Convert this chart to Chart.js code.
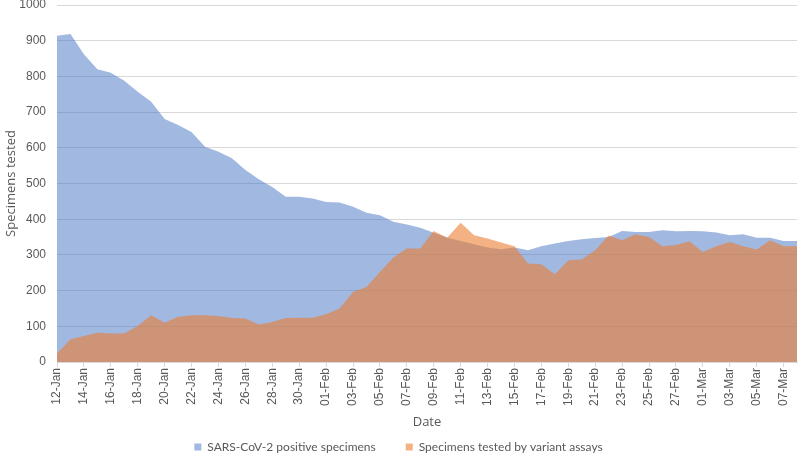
<!DOCTYPE html>
<html>
<head>
<meta charset="utf-8">
<script src="https://cdn.jsdelivr.net/npm/chart.js@4.4.1/dist/chart.umd.min.js"></script>
<style>
  html, body { margin: 0; padding: 0; background: #fff; }
  #wrap { width: 800px; height: 469px; position: relative; }
</style>
</head>
<body>
<div id="wrap"><canvas id="myChart"></canvas></div>
<script>
// Dates (daily, 12-Jan to 08-Mar)
const dates = [
  '12-Jan', '13-Jan', '14-Jan', '15-Jan', '16-Jan', '17-Jan', '18-Jan', '19-Jan', '20-Jan', '21-Jan',
  '22-Jan', '23-Jan', '24-Jan', '25-Jan', '26-Jan', '27-Jan', '28-Jan', '29-Jan', '30-Jan', '31-Jan',
  '01-Feb', '02-Feb', '03-Feb', '04-Feb', '05-Feb', '06-Feb', '07-Feb', '08-Feb', '09-Feb', '10-Feb',
  '11-Feb', '12-Feb', '13-Feb', '14-Feb', '15-Feb', '16-Feb', '17-Feb', '18-Feb', '19-Feb', '20-Feb',
  '21-Feb', '22-Feb', '23-Feb', '24-Feb', '25-Feb', '26-Feb', '27-Feb', '28-Feb', '01-Mar', '02-Mar',
  '03-Mar', '04-Mar', '05-Mar', '06-Mar', '07-Mar', '08-Mar'
];

// SARS-CoV-2 positive specimens
const positiveSpecimens = [
  914, 919, 862, 820, 810, 788, 757, 729, 681, 664,
  644, 603, 589, 571, 538, 512, 490, 463, 463, 458,
  448, 447, 435, 418, 411, 393, 385, 376, 362, 349,
  339, 330, 321, 316, 321, 313, 324, 332, 339, 344,
  347, 350, 367, 364, 364, 369, 366, 367, 366, 363,
  355, 358, 348, 348, 339, 339
];

// Specimens tested by variant assays
const variantTested = [
  24, 64, 73, 82, 80, 80, 101, 131, 110, 127,
  131, 131, 129, 123, 122, 105, 112, 123, 124, 124,
  134, 150, 196, 210, 252, 293, 318, 318, 367, 348,
  390, 355, 346, 335, 324, 276, 274, 246, 285, 287,
  313, 354, 341, 358, 350, 324, 328, 338, 308, 324,
  336, 324, 315, 341, 324, 324
];

const yTicks = { min: 0, max: 1000, step: 100 };

const grey = '#595959';
const gridGrey = '#D9D9D9';

const ctx = document.getElementById('myChart').getContext('2d');

new Chart(ctx, {
  type: 'line',
  data: {
    labels: dates,
    datasets: [{
      label: 'SARS-CoV-2 positive specimens',
      data: positiveSpecimens,
      backgroundColor: 'rgba(68, 114, 196, 0.5)',
      borderWidth: 0,
      borderColor: 'rgba(0,0,0,0)',
      fill: 'origin',
      pointRadius: 0,
      tension: 0,
      order: 2 // drawn behind
    }, {
      label: 'Specimens tested by variant assays',
      data: variantTested,
      backgroundColor: 'rgba(237, 125, 49, 0.6)',
      borderWidth: 0,
      borderColor: 'rgba(0,0,0,0)',
      fill: 'origin',
      pointRadius: 0,
      tension: 0,
      order: 1 // drawn on top
    }]
  },
  options: {
    responsive: true,
    maintainAspectRatio: false,
    animation: false,
    layout: {
      padding: { left: 0, right: 3, top: 5, bottom: 6 }
    },
    plugins: {
      legend: {
        position: 'bottom',
        labels: {
          boxWidth: 7,
          boxHeight: 7,
          padding: 30,
          color: grey,
          font: { family: 'Lato', size: 12 },
          sort: function(a, b) { return a.datasetIndex - b.datasetIndex; }
        }
      },
      tooltip: { enabled: false }
    },
    scales: {
      x: {
        offset: false,
        grid: {
          drawOnChartArea: false,
          drawTicks: true,
          tickLength: 5,
          color: function(c) { return c.index % 2 === 0 ? gridGrey : 'rgba(0,0,0,0)'; }
        },
        border: { display: true, color: gridGrey },
        ticks: {
          autoSkip: false,
          minRotation: 90,
          maxRotation: 90,
          padding: 1,
          color: grey,
          font: { family: 'Liberation Sans', size: 12 },
          callback: function(value, index) {
            return index % 2 === 0 ? this.getLabelForValue(value) : '';
          }
        },
        title: {
          display: true,
          text: 'Date',
          color: grey,
          font: { family: 'Open Sans', size: 13 },
          padding: { top: 0, bottom: -19 }
        },
        afterFit: function(scale) {
          scale.height = 49;
          scale.paddingLeft = 0;
          scale.paddingRight = 0;
        }
      },
      y: {
        min: yTicks.min,
        max: yTicks.max,
        grid: { color: gridGrey, drawTicks: false },
        border: { display: false },
        ticks: {
          stepSize: yTicks.step,
          padding: 11,
          color: grey,
          font: { family: 'Liberation Sans', size: 12 },
          callback: function(value) { return String(value); }
        },
        title: {
          display: true,
          text: 'Specimens tested',
          color: grey,
          font: { family: 'Open Sans', size: 13 },
          padding: { top: 3, bottom: 4 }
        },
        afterFit: function(scale) {
          scale.width = 57;
          scale.paddingTop = 0;
          scale.paddingBottom = 0;
        }
      }
    }
  }
});
</script>
</body>
</html>
